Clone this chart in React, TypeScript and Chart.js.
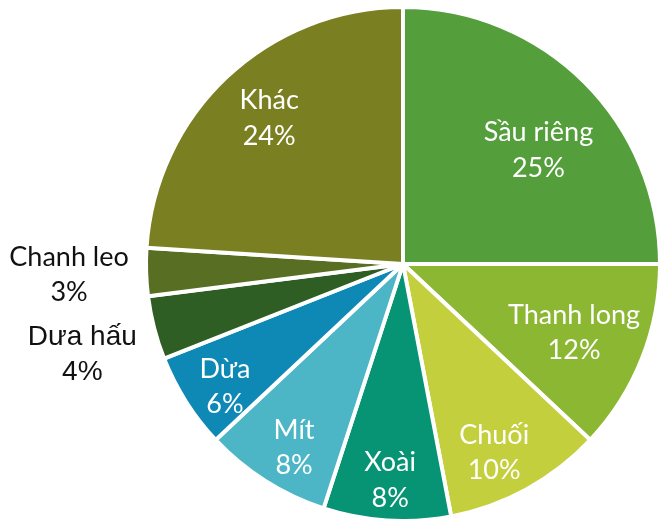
import React, { useEffect, useRef } from "react";
import { Chart, registerables } from "chart.js";

Chart.register(...registerables);

const categories = ["Sầu riêng", "Thanh long", "Chuối", "Xoài", "Mít", "Dừa", "Dưa hấu", "Chanh leo", "Khác"];
const shares = [25, 12, 10, 8, 8, 6, 4, 3, 24];
const sliceColors = ["#549E3C", "#8CB733", "#C3CF3C", "#079474", "#4CB6C6", "#0E88B4", "#2F5E24", "#586E22", "#7A8022"];

// label placement (fraction of radius, angular shift in degrees) and styling
const labelDist = [0.69, 0.716, 0.812, 0.84, 0.828, 0.84, 1.295, 1.30, 0.773];
const labelShift = [4.8, 0, 2.9, -0.2, -1.6, -2, -1.1, 0.1, 0.85];
const labelInside = [true, true, true, true, true, true, false, false, true];

const labelPlugin = {
  id: "sliceLabels",
  afterDatasetsDraw(chart: any) {
    const ctx = chart.ctx;
    const meta = chart.getDatasetMeta(0);
    meta.data.forEach((arc: any, i: number) => {
      const p = arc.getProps(["x", "y", "startAngle", "endAngle", "outerRadius"], true);
      const mid = (p.startAngle + p.endAngle) / 2 + (labelShift[i] * Math.PI) / 180;
      const r = p.outerRadius * labelDist[i];
      const cx = p.x + Math.cos(mid) * r;
      const cy = p.y + Math.sin(mid) * r;
      const isDuaHau = i === 6;
      const font = isDuaHau ? "28px 'Liberation Sans'" : "27px Lato";
      const cap = isDuaHau ? 20 : 19.2;
      const gap = isDuaHau ? 35 : 35.5;
      ctx.save();
      ctx.font = font;
      ctx.fillStyle = labelInside[i] ? "#FFFFFF" : "#111111";
      ctx.textAlign = "center";
      ctx.textBaseline = "alphabetic";
      ctx.fillText(categories[i], cx, cy - gap / 2 + cap / 2);
      ctx.fillText(shares[i] + "%", cx, cy + gap / 2 + cap / 2);
      ctx.restore();
    });
  },
};

export default function App() {
  const ref = useRef<HTMLCanvasElement | null>(null);
  useEffect(() => {
    if (!ref.current) return;
    const chart = new Chart(ref.current, {
      type: "pie",
      data: {
        labels: categories,
        datasets: [
          {
            data: shares,
            backgroundColor: sliceColors,
            borderColor: "#FFFFFF",
            borderWidth: 4,
            clip: false as any,
          },
        ],
      },
      options: {
        responsive: false,
        animation: false,
        devicePixelRatio: 1,
        radius: 257,
        layout: { padding: { left: 148, right: 1, top: 9, bottom: 0 } },
        plugins: { legend: { display: false }, tooltip: { enabled: false } },
      } as any,
      plugins: [labelPlugin],
    });
    return () => chart.destroy();
  }, []);
  return (
    <div style={{ position: "absolute", left: 0, top: 0, width: 659, height: 519, background: "#FFFFFF" }}>
      <canvas ref={ref} width={659} height={519} style={{ display: "block", width: 659, height: 519 }} />
    </div>
  );
}
